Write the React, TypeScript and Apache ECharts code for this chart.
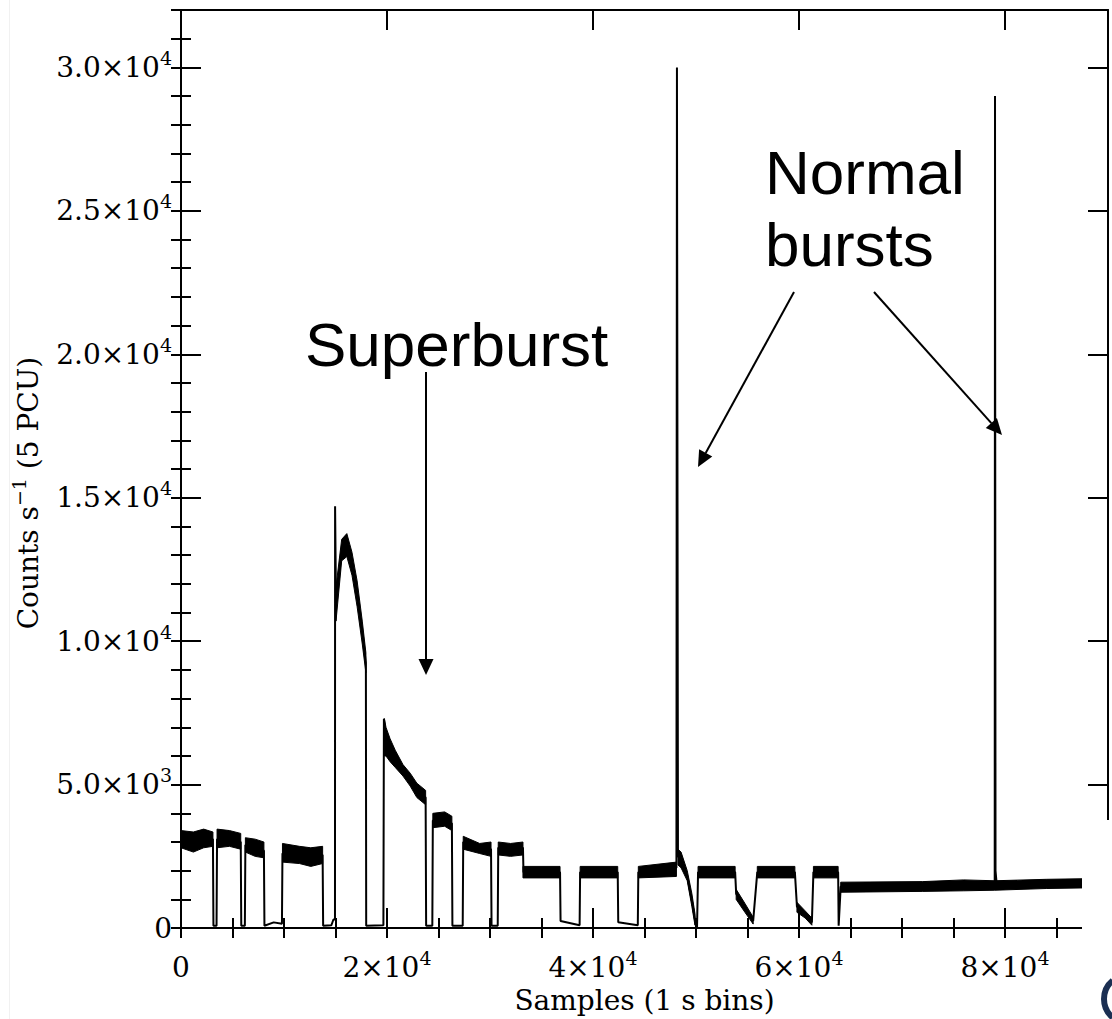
import React, { useEffect, useRef } from 'react';
import * as echarts from 'echarts';

// ---------- axis ranges & ticks ----------
const X_MIN = 0;
const X_MAX = 90000;
const Y_MIN = 0;
const Y_MAX = 32000;
const X_MAJOR = 20000;
const X_MINOR = 5000;
const Y_MAJOR = 5000;
const Y_MINOR = 1000;

const X_TICK_VALUES = [0, 20000, 40000, 60000, 80000];
const X_TICK_MANTISSA = ['0', '2×10', '4×10', '6×10', '8×10'];
const X_TICK_EXPONENT = ['', '4', '4', '4', '4'];

const Y_TICK_VALUES = [0, 5000, 10000, 15000, 20000, 25000, 30000];
const Y_TICK_MANTISSA = ['0', '5.0×10', '1.0×10', '1.5×10', '2.0×10', '2.5×10', '3.0×10'];
const Y_TICK_EXPONENT = ['', '3', '4', '4', '4', '4', '4'];

const X_TITLE = 'Samples (1 s bins)';
const Y_TITLE_MAIN = 'Counts s';
const Y_TITLE_SUP = '−1';
const Y_TITLE_TAIL = ' (5 PCU)';

// ---------- light curve: thin trace ----------
const TRACE_X = [
  0, 3100, 3150, 3450, 3500, 5800, 5850, 6200, 6250, 8050,
  8100, 9000, 9800, 9850, 13750, 13800, 14600, 14800, 14950, 14960,
  15050, 15600, 16100, 16600, 17100, 17600, 17950, 17980, 19650, 19700,
  19900, 20300, 20800, 21550, 22250, 22900, 23750, 23800, 24400, 24450,
  26300, 26350, 27350, 27400, 29000, 30100, 30150, 30750, 30800, 33200,
  33250, 36800, 36850, 38700, 38750, 42400, 42450, 44350, 44400, 48100,
  48150, 48250, 48550, 49150, 49600, 49900, 50100, 50200, 53800, 53900,
  54750, 55550, 55950, 59600, 59800, 60600, 61250, 61400, 63800, 63850,
  64050, 72000, 76000, 79000, 79030, 79080, 79200, 84000, 87500, 90000,
];
const TRACE_Y = [
  3100, 3100, 80, 80, 3100, 3000, 80, 80, 2900, 2700,
  80, 200, 150, 2600, 2550, 80, 100, 300, 300, 14700,
  11300, 13200, 13350, 12700, 11650, 10300, 9250, 80, 100, 7300,
  6500, 6200, 5900, 5500, 5150, 4800, 4550, 80, 80, 3750,
  3650, 80, 80, 3000, 2800, 2750, 80, 80, 2800, 2800,
  1950, 1950, 250, 100, 1950, 1950, 200, 100, 1950, 2100,
  30000, 2500, 2400, 1800, 950, 300, 30, 1950, 1950, 1200,
  700, 250, 1950, 1950, 750, 480, 200, 1950, 1950, 80,
  1450, 1450, 1500, 1480, 29000, 2000, 1500, 1550, 1560, 1560,
];

// ---------- light curve: noisy band envelopes (null separates segments) ----------
const BAND_X = [
  0, 1200, 2200, 3100, null,
  3500, 4700, 5800, null,
  6250, 7200, 8050, null,
  9850, 11500, 12600, 13750, null,
  15050, 15600, 16100, 16600, 17100, 17600, 17950, null,
  19750, 19900, 20300, 20800, 21550, 22250, 22900, 23750, null,
  24450, 25600, 26300, null,
  27400, 29000, 30100, null,
  30800, 32000, 33200, null,
  33200, 36800, null,
  38750, 42400, null,
  44400, 48100, null,
  48250, 48550, 49150, 49600, 49900, null,
  50200, 53800, null,
  53900, 54750, 55550, null,
  55950, 59600, null,
  59800, 60600, 61250, null,
  61400, 63800, null,
  64050, 72000, 76000, 79000, 84000, 87500, 90000,
];
const BAND_LO = [
  2800, 2650, 2800, 2850, null,
  2800, 2850, 2750, null,
  2650, 2500, 2450, null,
  2300, 2250, 2150, 2250, null,
  10700, 12800, 12950, 12300, 11200, 9900, 8900, null,
  6000, 6000, 5800, 5600, 5300, 4950, 4550, 4300, null,
  3500, 3550, 3400, null,
  2750, 2600, 2500, null,
  2550, 2500, 2550, null,
  1750, 1750, null,
  1750, 1750, null,
  1750, 1800, null,
  2200, 2100, 1650, 750, 100, null,
  1750, 1750, null,
  1000, 550, 140, null,
  1750, 1750, null,
  550, 350, 100, null,
  1750, 1750, null,
  1250, 1280, 1300, 1320, 1380, 1400, 1400,
];
const BAND_HI = [
  3400, 3350, 3450, 3350, null,
  3450, 3400, 3300, null,
  3150, 3100, 3000, null,
  2950, 2850, 2800, 2850, null,
  11900, 13550, 13750, 13100, 12100, 10700, 9600, null,
  7300, 7000, 6600, 6200, 5700, 5400, 5050, 4800, null,
  4000, 4050, 3900, null,
  3200, 2950, 3000, null,
  3000, 2950, 3000, null,
  2150, 2150, null,
  2150, 2150, null,
  2150, 2300, null,
  2750, 2650, 2000, 1200, 500, null,
  2150, 2150, null,
  1350, 860, 380, null,
  2150, 2150, null,
  900, 600, 350, null,
  2150, 2150, null,
  1600, 1620, 1680, 1650, 1700, 1720, 1720,
];

// ---------- annotations ----------
const NOTE_SUPER = 'Superburst';
const NOTE_NORMAL_1 = 'Normal';
const NOTE_NORMAL_2 = 'bursts';

function buildSegments(): number[][][] {
  const segs: number[][][] = [];
  let cur: number[][] = [];
  for (let i = 0; i < BAND_X.length; i++) {
    const x = BAND_X[i];
    if (x === null) {
      if (cur.length) segs.push(cur);
      cur = [];
    } else {
      cur.push([x as number, BAND_LO[i] as number, BAND_HI[i] as number]);
    }
  }
  if (cur.length) segs.push(cur);
  return segs;
}

function arrow(x0: number, y0: number, x1: number, y1: number) {
  const dx = x1 - x0;
  const dy = y1 - y0;
  const len = Math.hypot(dx, dy);
  const ux = dx / len;
  const uy = dy / len;
  const L = 16;
  const W = 7.5;
  const bx = x1 - ux * L;
  const by = y1 - uy * L;
  return [
    { type: 'line', z: 50, shape: { x1: x0, y1: y0, x2: bx, y2: by }, style: { stroke: '#000', lineWidth: 2 } },
    {
      type: 'polygon',
      z: 50,
      shape: { points: [[x1, y1], [bx - uy * W, by + ux * W], [bx + uy * W, by - ux * W]] },
      style: { fill: '#000' },
    },
  ];
}

const SERIF = 'DejaVu Serif';
const tickRich = {
  n: { fontFamily: SERIF, fontSize: 28, lineHeight: 38, color: '#000' },
  s: { fontFamily: SERIF, fontSize: 19, verticalAlign: 'top', color: '#000' },
};

function xLabel(v: number) {
  const i = X_TICK_VALUES.indexOf(v);
  if (i < 0) return '';
  return X_TICK_EXPONENT[i] ? `{n|${X_TICK_MANTISSA[i]}}{s|${X_TICK_EXPONENT[i]}}` : `{n|${X_TICK_MANTISSA[i]}}`;
}
function yLabel(v: number) {
  const i = Y_TICK_VALUES.indexOf(v);
  if (i < 0) return '';
  return Y_TICK_EXPONENT[i] ? `{n|${Y_TICK_MANTISSA[i]}}{s|${Y_TICK_EXPONENT[i]}}` : `{n|${Y_TICK_MANTISSA[i]}}`;
}

const frameLine = { show: true, onZero: false, lineStyle: { color: '#000', width: 2 } };
const noLine = { show: false };

export default function App() {
  const ref = useRef<HTMLDivElement>(null);
  useEffect(() => {
    if (!ref.current) return;
    const chart = echarts.init(ref.current, null, { renderer: 'svg' });
    const segments = buildSegments();
    const baseX = { type: 'value', min: X_MIN, max: X_MAX, splitLine: { show: false } };
    const baseY = { type: 'value', min: Y_MIN, max: Y_MAX, splitLine: { show: false } };
    const option: any = {
      animation: false,
      backgroundColor: '#fff',
      grid: { left: 181, right: 4, top: 10, bottom: 81, containLabel: false },
      xAxis: [
        {
          ...baseX,
          position: 'bottom',
          interval: X_MAJOR,
          axisLine: frameLine,
          axisTick: { show: true, inside: true, length: 20, lineStyle: { color: '#000', width: 2 } },
          axisLabel: { show: true, margin: 20, formatter: xLabel, rich: tickRich },
          name: X_TITLE,
          nameLocation: 'middle',
          nameGap: 51,
          nameTextStyle: { fontFamily: SERIF, fontSize: 28, color: '#000' },
        },
        {
          ...baseX,
          position: 'bottom',
          interval: X_MINOR,
          axisLine: noLine,
          axisTick: { show: true, inside: true, length: 10, lineStyle: { color: '#000', width: 2 } },
          axisLabel: { show: false },
        },
        {
          ...baseX,
          position: 'top',
          interval: X_MAJOR,
          axisLine: frameLine,
          axisTick: { show: true, inside: true, length: 20, lineStyle: { color: '#000', width: 2 } },
          axisLabel: { show: false },
        },
        {
          ...baseX,
          position: 'top',
          interval: X_MINOR,
          axisLine: noLine,
          axisTick: { show: true, inside: true, length: 10, lineStyle: { color: '#000', width: 2 } },
          axisLabel: { show: false },
        },
      ],
      yAxis: [
        {
          ...baseY,
          position: 'left',
          interval: Y_MAJOR,
          axisLine: frameLine,
          axisTick: { show: true, inside: true, length: 20, lineStyle: { color: '#000', width: 2 } },
          axisLabel: { show: true, margin: 9, formatter: yLabel, rich: tickRich },
          name: `{a|${Y_TITLE_MAIN}}{s|${Y_TITLE_SUP}}{a|${Y_TITLE_TAIL}}`,
          nameLocation: 'middle',
          nameGap: 134,
          nameRotate: 90,
          nameTextStyle: {
            padding: [0, 48, 0, 0],
            rich: {
              a: { fontFamily: SERIF, fontSize: 28, lineHeight: 38, color: '#000' },
              s: { fontFamily: SERIF, fontSize: 19, verticalAlign: 'top', color: '#000' },
            },
          },
        },
        {
          ...baseY,
          position: 'left',
          interval: Y_MINOR,
          axisLine: noLine,
          axisTick: { show: true, inside: true, length: 10, lineStyle: { color: '#000', width: 2 } },
          axisLabel: { show: false },
        },
        {
          ...baseY,
          position: 'right',
          interval: Y_MAJOR,
          axisLine: frameLine,
          axisTick: { show: true, inside: true, length: 20, lineStyle: { color: '#000', width: 2 } },
          axisLabel: { show: false },
        },
        {
          ...baseY,
          position: 'right',
          interval: Y_MINOR,
          axisLine: noLine,
          axisTick: { show: true, inside: true, length: 10, lineStyle: { color: '#000', width: 2 } },
          axisLabel: { show: false },
        },
      ],
      series: [
        {
          type: 'custom',
          name: 'band',
          xAxisIndex: 0,
          yAxisIndex: 0,
          silent: true,
          z: 2,
          encode: { x: 0, y: 1 },
          data: segments.map((s) => [s[0][0], s[0][1]]),
          renderItem: (params: any, api: any) => {
            const seg = segments[params.dataIndex];
            const upper = seg.map((p) => api.coord([p[0], p[2]]));
            const lower = seg.slice().reverse().map((p) => api.coord([p[0], p[1]]));
            return {
              type: 'polygon',
              shape: { points: upper.concat(lower) },
              style: { fill: '#000', stroke: '#000', lineWidth: 1 },
            };
          },
        },
        {
          type: 'line',
          name: 'trace',
          xAxisIndex: 0,
          yAxisIndex: 0,
          silent: true,
          z: 3,
          symbol: 'none',
          lineStyle: { color: '#000', width: 2 },
          data: TRACE_X.map((x, i) => [x, TRACE_Y[i]]),
        },
      ],
      graphic: {
        elements: [
          {
            type: 'line',
            z: 1,
            shape: { x1: 9.5, y1: 0, x2: 9.5, y2: 1019 },
            style: { stroke: '#f1f1f1', lineWidth: 1 },
          },
          {
            type: 'text',
            z: 50,
            x: 305,
            y: 344,
            style: { text: NOTE_SUPER, fill: '#000', fontSize: 62, fontFamily: 'Liberation Sans', align: 'left', verticalAlign: 'middle' },
          },
          {
            type: 'text',
            z: 50,
            x: 765,
            y: 172,
            style: { text: NOTE_NORMAL_1, fill: '#000', fontSize: 62, fontFamily: 'Liberation Sans', align: 'left', verticalAlign: 'middle' },
          },
          {
            type: 'text',
            z: 50,
            x: 765,
            y: 244,
            style: { text: NOTE_NORMAL_2, fill: '#000', fontSize: 62, fontFamily: 'Liberation Sans', align: 'left', verticalAlign: 'middle' },
          },
          ...arrow(426, 372, 426, 675),
          ...arrow(794, 292, 698, 467),
          ...arrow(874, 292, 1002, 435),
          {
            type: 'rect',
            z: 100,
            shape: { x: 1082, y: 820, width: 40, height: 210 },
            style: { fill: '#fff' },
          },
          {
            type: 'arc',
            z: 101,
            shape: { cx: 1128, cy: 999, r: 24, startAngle: Math.PI * 0.72, endAngle: Math.PI * 1.28, clockwise: true },
            style: { stroke: '#1b2f52', lineWidth: 6, fill: 'none' },
          },
        ],
      },
    };
    chart.setOption(option);
    return () => chart.dispose();
  }, []);
  return (
    <div
      ref={ref}
      style={{ position: 'fixed', left: 0, top: 0, width: 1112, height: 1019, background: '#fff' }}
    />
  );
}
